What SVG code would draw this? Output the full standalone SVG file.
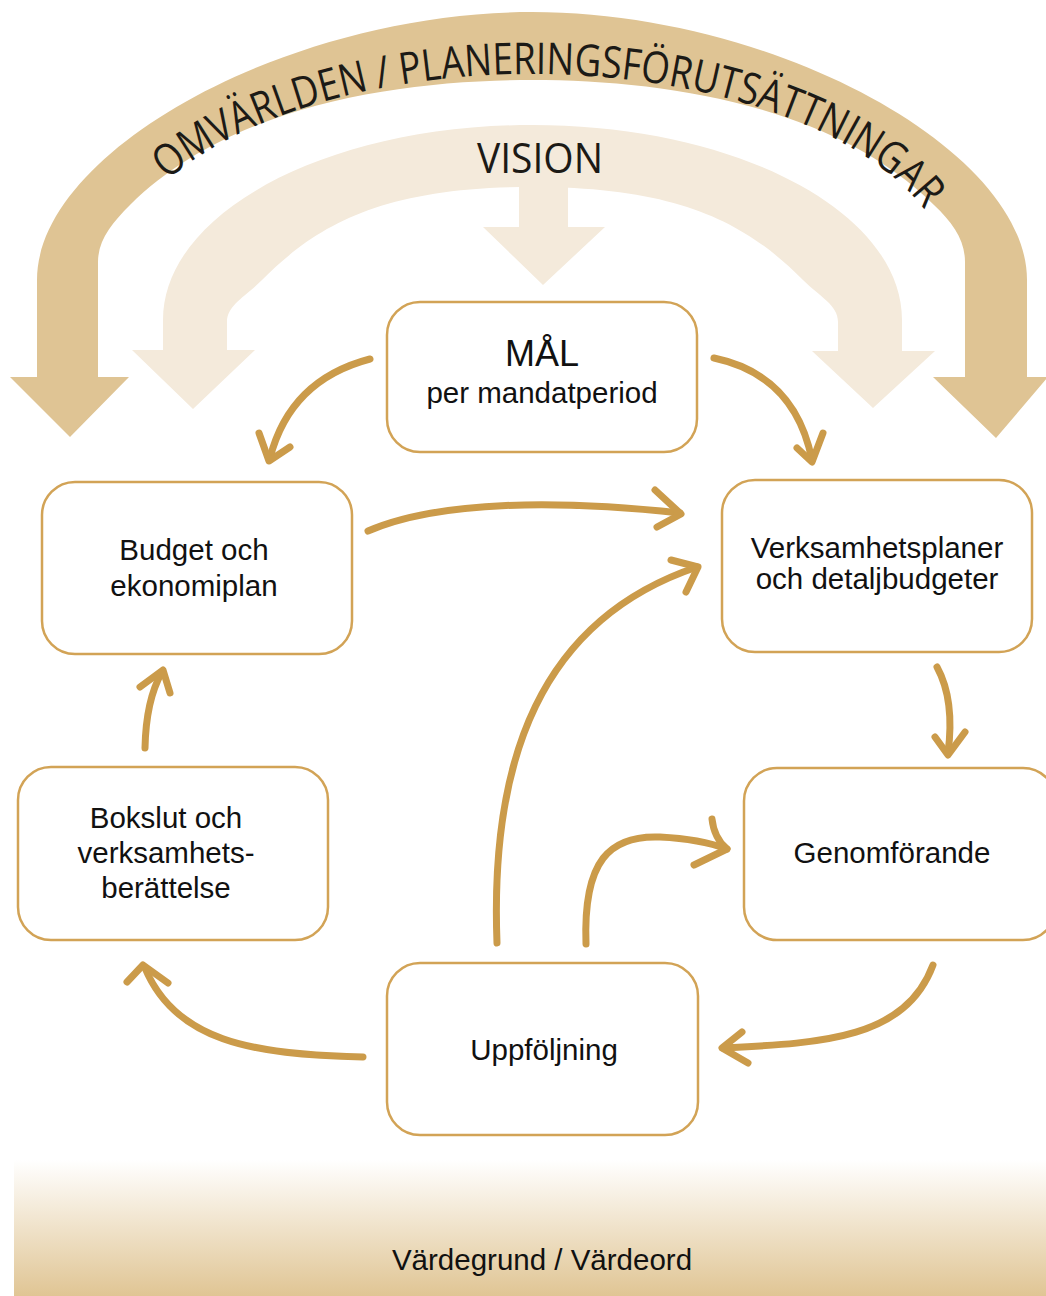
<svg xmlns="http://www.w3.org/2000/svg" width="1046" height="1296" viewBox="0 0 1046 1296">
<style>
.box{fill:#ffffff;stroke:#d2a356;stroke-width:2.5}
.lbl{font-family:"Liberation Sans",Arial,sans-serif;font-size:29.5px;fill:#111;text-anchor:middle}
.big{font-size:36px}
.arc{font-family:"Open Sans","DejaVu Sans",sans-serif;fill:#1c1a16}
.conn path{fill:none;stroke:#cb9b4a;stroke-width:7;stroke-linecap:round;stroke-linejoin:round}
</style>
<defs>
<linearGradient id="ground" x1="0" y1="0" x2="0" y2="1">
<stop offset="0" stop-color="#ffffff"/>
<stop offset="1" stop-color="#e0c594"/>
</linearGradient>
<path id="textArc" d="M112,285 A420,211 0 0 1 952,285"/>
</defs>
<rect width="1046" height="1296" fill="#ffffff"/>

<g id="omvarlden">
<path fill="#dfc494" d="M37,377 L37,280 C37,150 290,12 532,12 C774,12 1027,150 1027,280 L1027,377 L1048,377 L996,438 L933,377 L965,377 L965,262 C965,240 953,223 934,205 C834,105 664,80 532,80 C400,80 230,105 130,205 C112,223 98,240 98,262 L98,377 L129,377 L70,437 L10,377 Z"/>
<text class="arc" font-size="44"><textPath href="#textArc" startOffset="122" textLength="815" lengthAdjust="spacingAndGlyphs">OMVÄRLDEN / PLANERINGSFÖRUTSÄTTNINGAR</textPath></text>
</g>

<g id="vision">
<path fill="#f4eadb" d="M163,350 L163,320 C163,212 328,125 532.5,125 C737,125 902,212 902,320 L902,351 L935,351 L873,408 L812,351 L838,351 L838,322 C838,305 820,297 803,280 C748,225 683,187 532.5,187 C382,187 317,225 262,280 C245,297 227,305 227,322 L227,350 L255,350 L193,409 L132,350 Z"/>
<path fill="#f4eadb" d="M519,180 L568,180 L568,227 L605,227 L543,285 L483,227 L519,227 Z"/>
<text class="arc" x="477" y="173" font-size="42" textLength="126" lengthAdjust="spacingAndGlyphs">VISION</text>
</g>

<g id="vardegrund">
<rect x="14" y="1160" width="1032" height="136" fill="url(#ground)"/>
<text class="lbl" x="542" y="1270">Värdegrund / Värdeord</text>
</g>

<g class="conn" id="connectors">
<path d="M370,359 Q290,380 270,458"/>
<path d="M259,433 L269,461 L290,447"/>
<path d="M714,358 Q795,375 812,460"/>
<path d="M797,448 L812,462 L823,433"/>
<path d="M368,531 C440,500 560,500 680,513"/>
<path d="M655,490 L681,514 L657,527"/>
<path d="M497,943 C490,760 540,620 697,567"/>
<path d="M671,560 L698,567 L686,592"/>
<path d="M586,944 C583,860 610,835 660,837 Q700,839 727,849"/>
<path d="M712,819 Q714,838 727,849 L694,865"/>
<path d="M937,667 Q955,700 948,753"/>
<path d="M935,737 L948,755 L965,732"/>
<path d="M933,965 C905,1040 820,1043 723,1048"/>
<path d="M742,1032 L722,1048 L748,1063"/>
<path d="M363,1057 C250,1055 175,1040 145,968"/>
<path d="M127,982 L143,965 L168,983"/>
<path d="M145,748 Q146,700 162,672"/>
<path d="M140,687 L163,670 L170,693"/>
</g>

<g id="mal">
<rect class="box" x="387" y="302" width="310" height="150" rx="33"/>
<text class="lbl big" x="542" y="366">MÅL</text>
<text class="lbl" x="542" y="403">per mandatperiod</text>
</g>

<g id="budget">
<rect class="box" x="42" y="482" width="310" height="172" rx="33"/>
<text class="lbl" x="194" y="560">Budget och</text>
<text class="lbl" x="194" y="596">ekonomiplan</text>
</g>

<g id="verksamhetsplaner">
<rect class="box" x="722" y="480" width="310" height="172" rx="33"/>
<text class="lbl" x="877" y="558">Verksamhetsplaner</text>
<text class="lbl" x="877" y="589">och detaljbudgeter</text>
</g>

<g id="bokslut">
<rect class="box" x="18" y="767" width="310" height="173" rx="33"/>
<text class="lbl" x="166" y="828">Bokslut och</text>
<text class="lbl" x="166" y="863">verksamhets-</text>
<text class="lbl" x="166" y="898">berättelse</text>
</g>

<g id="genomforande">
<rect class="box" x="744" y="768" width="312" height="172" rx="33"/>
<text class="lbl" x="892" y="863">Genomförande</text>
</g>

<g id="uppfoljning">
<rect class="box" x="387" y="963" width="311" height="172" rx="33"/>
<text class="lbl" x="544" y="1060">Uppföljning</text>
</g>
</svg>
